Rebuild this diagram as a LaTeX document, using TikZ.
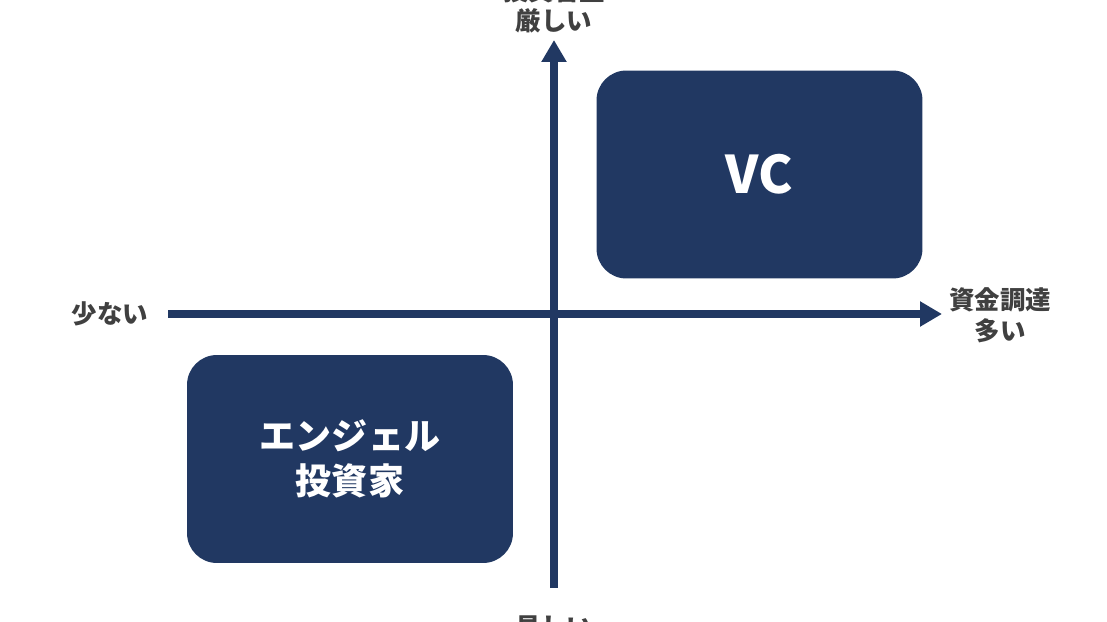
\documentclass[tikz,border=0pt]{standalone}
\usepackage{fontspec}
\setmainfont{Noto Sans CJK JP}
\usepackage{xcolor}
\usetikzlibrary{arrows.meta,positioning}

\definecolor{navy}{RGB}{33,56,98}
\definecolor{labelgray}{RGB}{64,64,64}

\begin{document}
\begin{tikzpicture}[x=0.02cm,y=-0.02cm,
    box/.style={fill=navy,text=white,rounded corners=17pt,minimum width=6.52cm,minimum height=4.16cm,align=center,font=\bfseries\fontsize{20.5pt}{25.5pt}\selectfont},
    axis/.style={navy,line width=4.5pt,-{Triangle[length=12.5pt,width=13.6pt]}},
    axislabel/.style={text=labelgray,align=center,inner sep=0pt,font=\bfseries\fontsize{14.5pt}{17.5pt}\selectfont}]
    \useasboundingbox (0,0) rectangle (1107,622);

    % Axes
    \coordinate (xstart) at (168,314);
    \coordinate (xend) at (942,314);
    \coordinate (ystart) at (554,588);
    \coordinate (yend) at (554,40);
    \draw[axis] (xstart) -- (xend);
    \draw[axis] (ystart) -- (yend);

    % Axis labels
    \node[axislabel] (few) at (110,314) {少ない};
    \node[axislabel] (many) at (1000,315) {資金調達\\多い};
    \node[axislabel] (strict) at (554,6) {投資審査\\厳しい};
    \node[axislabel] (easy) at (554,627) {易しい};

    % Quadrants
    \node[box] (vc) at (759.5,174.5) {\fontsize{29.5pt}{34pt}\selectfont VC};
    \node[box] (angel) at (350,459) {エンジェル\\投資家};
\end{tikzpicture}
\end{document}
